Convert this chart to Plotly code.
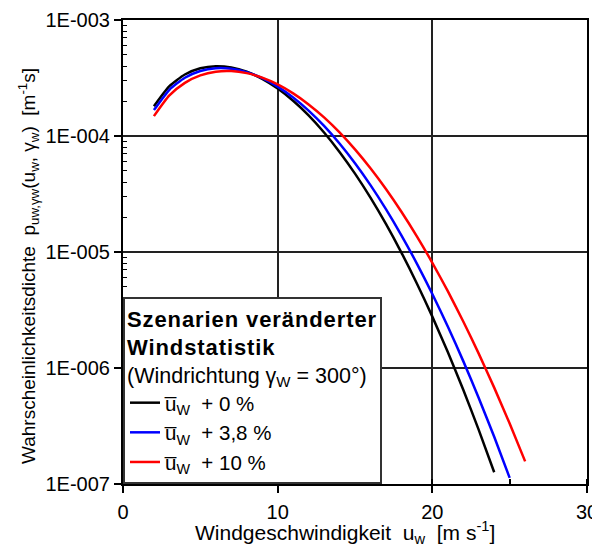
import plotly.graph_objects as go

# Wind speed (m/s)
u_0 = [2, 3, 4, 5, 6, 7, 8, 9, 10, 11, 12, 13, 14, 15, 16, 17, 18, 19, 20, 21, 22, 23, 24]
u_38 = [2, 3, 4, 5, 6, 7, 8, 9, 10, 11, 12, 13, 14, 15, 16, 17, 18, 19, 20, 21, 22, 23, 24, 25]
u_10 = [2, 3, 4, 5, 6, 7, 8, 9, 10, 11, 12, 13, 14, 15, 16, 17, 18, 19, 20, 21, 22, 23, 24, 25, 26]

# Probability density values (m^-1 s)
p_0 = [1.805e-4, 2.689e-4, 3.388e-4, 3.834e-4, 3.999e-4, 3.898e-4, 3.578e-4, 3.109e-4,
       2.563e-4, 2.011e-4, 1.504e-4, 1.072e-4, 7.294e-5, 4.739e-5, 2.942e-5, 1.745e-5,
       9.888e-6, 5.358e-6, 2.773e-6, 1.371e-6, 6.482e-7, 2.928e-7, 1.262e-7]
p_38 = [1.672e-4, 2.504e-4, 3.179e-4, 3.635e-4, 3.841e-4, 3.803e-4, 3.556e-4, 3.155e-4,
        2.666e-4, 2.149e-4, 1.656e-4, 1.221e-4, 8.609e-5, 5.819e-5, 3.769e-5, 2.340e-5,
        1.392e-5, 7.947e-6, 4.346e-6, 2.281e-6, 1.146e-6, 5.517e-7, 2.551e-7, 1.129e-7]
p_10 = [1.484e-4, 2.238e-4, 2.873e-4, 3.332e-4, 3.586e-4, 3.629e-4, 3.482e-4, 3.184e-4,
        2.783e-4, 2.330e-4, 1.873e-4, 1.447e-4, 1.074e-4, 7.669e-5, 5.272e-5, 3.491e-5,
        2.223e-5, 1.365e-5, 8.067e-6, 4.595e-6, 2.520e-6, 1.331e-6, 6.773e-7, 3.316e-7, 1.567e-7]

names = ["u\u0305<sub>W</sub>  + 0 %", "u\u0305<sub>W</sub>  + 3,8 %", "u\u0305<sub>W</sub>  + 10 %"]
colors = ["#000000", "#0000FF", "#FF0000"]

y_tickvals = [1e-7, 1e-6, 1e-5, 1e-4, 1e-3]
y_ticktext = ["1E-007", "1E-006", "1E-005", "1E-004", "1E-003"]
x_tickvals = [0, 10, 20, 30]

FONT = "Liberation Sans, Arial, sans-serif"

fig = go.Figure()
for xs, ys, nm, col in [(u_0, p_0, names[0], colors[0]),
                        (u_38, p_38, names[1], colors[1]),
                        (u_10, p_10, names[2], colors[2])]:
    fig.add_trace(go.Scatter(x=xs, y=ys, mode="lines", name=nm,
                             line=dict(color=col, width=2.5, shape="spline", smoothing=0.6)))

minor_y = [m * 10.0 ** e for e in range(-7, -3) for m in range(2, 10)]

# the page body adds an 8 px offset; figure is sized to fit the window
W, H = 592, 540
L, R, T, B = 115, 13, 12, 64
PW, PH = W - L - R, H - T - B
OFF = 8

fig.update_layout(
    width=W, height=H,
    margin=dict(l=L, r=R, t=T, b=B, autoexpand=False),
    paper_bgcolor="white", plot_bgcolor="white",
    font=dict(family=FONT, size=20, color="#000"),
    legend=dict(
        x=0, y=0, xanchor="left", yanchor="bottom",
        bgcolor="white", bordercolor="#333", borderwidth=2,
        font=dict(size=20.5),
        title=dict(text="<span style='font-size:22px;letter-spacing:0.9px'><b>Szenarien veränderter<br>Windstatistik</b></span><br>(Windrichtung γ<sub>W</sub> = 300°)",
                   font=dict(size=21.5)),
        tracegroupgap=0, itemwidth=30,
    ),
    xaxis=dict(
        range=[0, 30], tickmode="array", tickvals=x_tickvals, automargin=False,
        ticks="outside", ticklen=7, tickwidth=1.5, tickcolor="#000",
        showline=True, linecolor="#000", linewidth=2, mirror=True,
        showgrid=True, gridcolor="#222", gridwidth=1.5,
        zeroline=False, ticklabelstandoff=2,
        minor=dict(dtick=5, ticks="inside", ticklen=5, tickwidth=1.5, tickcolor="#000", showgrid=False),
        tickfont=dict(size=20),
    ),
    yaxis=dict(
        type="log", range=[-7, -3], tickmode="array", tickvals=y_tickvals, ticktext=y_ticktext,
        automargin=False,
        ticks="outside", ticklen=7, tickwidth=1.5, tickcolor="#000",
        showline=True, linecolor="#000", linewidth=2, mirror=True,
        showgrid=True, gridcolor="#222", gridwidth=1.5,
        zeroline=False,
        minor=dict(tickmode="array", tickvals=minor_y, ticks="inside", ticklen=4, tickwidth=1,
                   tickcolor="#000", showgrid=False),
        tickfont=dict(size=20),
    ),
    annotations=[
        dict(text="Windgeschwindigkeit\u00a0\u00a0u<sub>w</sub>\u00a0\u00a0[m s<sup>-1</sup>]",
             xref="paper", yref="paper", x=(345 - OFF - L) / PW, y=-(532 - OFF - T - PH) / PH,
             xanchor="center", yanchor="middle", showarrow=False, font=dict(size=21)),
        dict(text="Wahrscheinlichkeitsdichte\u00a0\u00a0p<sub>uw,γw</sub>(u<sub>w</sub>, γ<sub>w</sub>)\u00a0\u00a0[m<sup>-1</sup>s]",
             xref="paper", yref="paper", x=(28 - OFF - L) / PW, y=(H - OFF - 250 - B) / PH, textangle=-90,
             xanchor="center", yanchor="middle", showarrow=False, font=dict(size=19)),
    ],
)

fig.write_html("out.html")
